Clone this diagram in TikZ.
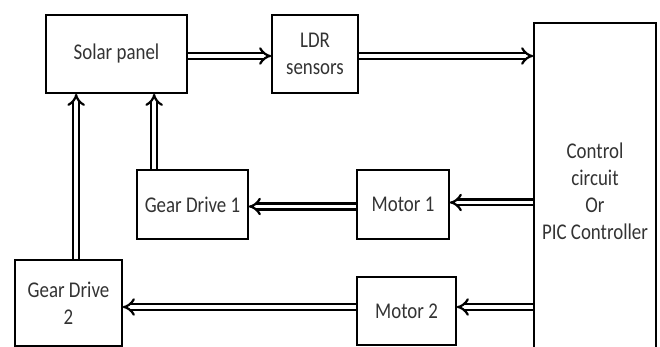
\documentclass[tikz,border=0pt]{standalone}
\usepackage{fontspec}
\setmainfont{Carlito}[FakeStretch=0.84]
\usetikzlibrary{arrows.meta}
\tikzset{
  blk/.style={draw=black, line width=1.7pt, rectangle, inner sep=0pt, align=center,
    font=\fontsize{22.5}{27}\selectfont, text=black!80},
  dar/.style={draw=black, line width=2.2pt, double=white, double distance=3.6pt,
    -{Implies[length=8pt,width=18pt]}},
}
\begin{document}
\begin{tikzpicture}[x=1pt,y=-1pt]
\useasboundingbox (0,0) rectangle (660,347);
\node[blk, minimum width=141pt, minimum height=78pt] (solar) at (116.5,54) {Solar panel};
\node[blk, minimum width=86pt, minimum height=78pt] (ldr) at (315,54) {LDR\\sensors};
\node[blk, minimum width=122pt, minimum height=337pt] (ctrl) at (595,191.5) {Control\\circuit\\Or\\PIC Controller};
\node[blk, minimum width=111pt, minimum height=69pt] (gd1) at (192.5,204.5) {Gear Drive 1};
\node[blk, minimum width=92pt, minimum height=69pt] (m1) at (403,204.5) {Motor 1};
\node[blk, minimum width=99pt, minimum height=68pt] (m2) at (406.5,311) {Motor 2};
\node[blk, minimum width=107pt, minimum height=86pt] (gd2) at (68.5,303) {Gear Drive\\2};

\draw[dar] ([yshift=-2pt]solar.east) -- ([yshift=-2pt]ldr.west);
\draw[dar] ([yshift=-2pt]ldr.east) -- ([yshift=-2pt]ldr.east -| ctrl.west);
\draw[dar] ([yshift=2pt]m1.east -| ctrl.west) -- ([yshift=2pt]m1.east);
\draw[dar] ([yshift=-2pt]m1.west) -- ([yshift=-2pt]m1.west -| gd1.east);
\draw[dar] ([yshift=4pt]m2.east -| ctrl.west) -- ([yshift=4pt]m2.east);
\draw[dar] ([yshift=4pt]m2.west) -- ([yshift=4pt]m2.west -| gd2.east);
\draw[dar] ([xshift=18pt]gd1.north west) -- ([xshift=18pt]gd1.north west |- solar.south);
\draw[dar] ([xshift=62pt]gd2.north west) -- ([xshift=62pt]gd2.north west |- solar.south);
\end{tikzpicture}
\end{document}
